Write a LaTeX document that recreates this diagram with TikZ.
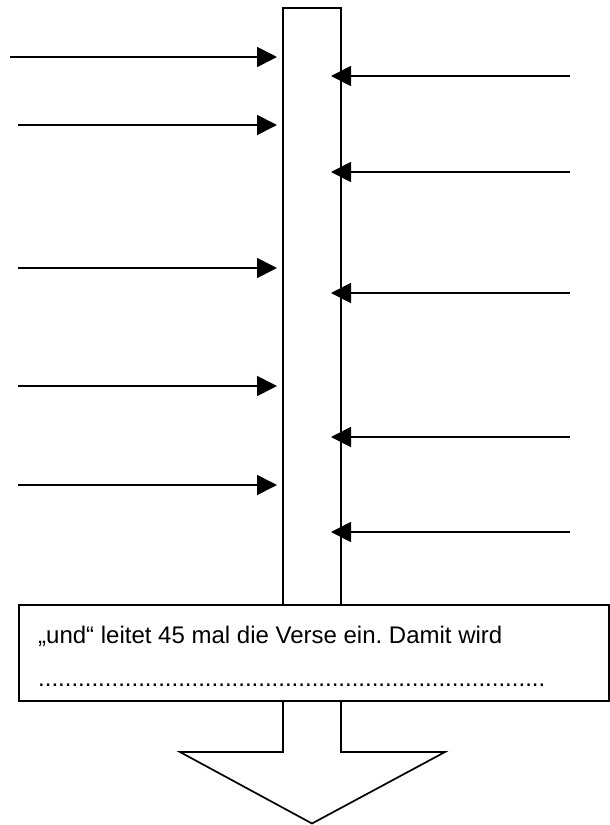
\documentclass[tikz,border=0pt]{standalone}
\usepackage{fontspec}
\setmainfont{Liberation Sans}
\usetikzlibrary{arrows.meta}
\frenchspacing
\begin{document}
\begin{tikzpicture}[x=1pt,y=-1pt,
  ln/.style={line width=1.7pt,black},
  inarrow/.style={ln,-{Triangle[length=20pt,width=20pt]}},
  txt/.style={anchor=base west,inner sep=0pt,font=\fontsize{24}{28}\selectfont}]
\useasboundingbox (0,0) rectangle (610,825);
% column
\draw[ln] (283,604) -- (283,8) -- (341,8) -- (341,604);
% left arrows
\coordinate (l1s) at (10,57);  \coordinate (l1e) at (277,57);
\coordinate (l2s) at (18,125); \coordinate (l2e) at (277,125);
\coordinate (l3s) at (18,268); \coordinate (l3e) at (277,268);
\coordinate (l4s) at (18,386); \coordinate (l4e) at (277,386);
\coordinate (l5s) at (18,485); \coordinate (l5e) at (277,485);
\foreach \i in {1,...,5} \draw[inarrow] (l\i s) -- (l\i e);
% right arrows
\coordinate (r1s) at (570,76);  \coordinate (r1e) at (331,76);
\coordinate (r2s) at (570,172); \coordinate (r2e) at (331,172);
\coordinate (r3s) at (570,293); \coordinate (r3e) at (331,293);
\coordinate (r4s) at (570,437); \coordinate (r4e) at (331,437);
\coordinate (r5s) at (570,532); \coordinate (r5e) at (331,532);
\foreach \i in {1,...,5} \draw[inarrow] (r\i s) -- (r\i e);
% text box
\node[ln,draw,fill=white,anchor=north west,minimum width=590pt,minimum height=96pt,inner sep=0pt] (box) at (18,604) {};
\node[txt] (t1) at (38,643) {„und“ leitet 45 mal die Verse ein. Damit wird};
\node[txt] (t2) at (38,686) {............................................................................};
% bottom arrow
\draw[ln,line join=miter] (283,700) -- (283,752) -- (180,752) -- (312,823.5) -- (445,752) -- (341,752) -- (341,700);
\end{tikzpicture}
\end{document}
